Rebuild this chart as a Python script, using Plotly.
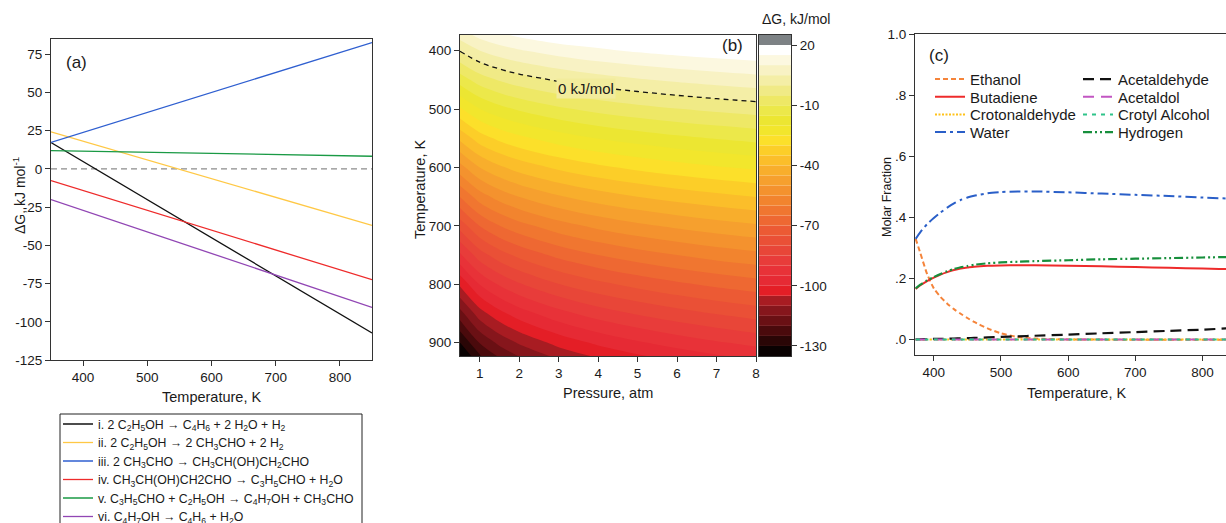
import plotly.graph_objects as go

W, H = 1226, 523
FONT = "Liberation Sans, Arial, Helvetica, sans-serif"
AXC = "#333333"
TXT = "#1a1a1a"

# ---------------- Panel (a): dG vs temperature ----------------
temp_a = [350, 850]
dg_i = [17.3, -107.3]
dg_ii = [24.2, -36.9]
dg_iii = [17.3, 82.7]
dg_iv = [-7.6, -72.5]
dg_v = [12.0, 8.3]
dg_vi = [-20.0, -90.6]
zero_a = [0, 0]
names_a = [
    "i. 2 C<sub>2</sub>H<sub>5</sub>OH → C<sub>4</sub>H<sub>6</sub> + 2 H<sub>2</sub>O + H<sub>2</sub>",
    "ii. 2 C<sub>2</sub>H<sub>5</sub>OH → 2 CH<sub>3</sub>CHO + 2 H<sub>2</sub>",
    "iii. 2 CH<sub>3</sub>CHO → CH<sub>3</sub>CH(OH)CH<sub>2</sub>CHO",
    "iv. CH<sub>3</sub>CH(OH)CH2CHO → C<sub>3</sub>H<sub>5</sub>CHO + H<sub>2</sub>O",
    "v. C<sub>3</sub>H<sub>5</sub>CHO + C<sub>2</sub>H<sub>5</sub>OH → C<sub>4</sub>H<sub>7</sub>OH + CH<sub>3</sub>CHO",
    "vi. C<sub>4</sub>H<sub>7</sub>OH → C<sub>4</sub>H<sub>6</sub> + H<sub>2</sub>O",
]
colors_a = ["#111111", "#ffc845", "#2f5fd0", "#ee2b2b", "#1a9a45", "#9146b4"]
xticks_a = [400, 500, 600, 700, 800]
yticks_a = [-125, -100, -75, -50, -25, 0, 25, 50, 75]
yticklabels_a = ["-125", "-100", "-75", "-50", "-25", "0", "25", "50", "75"]

# ---------------- Panel (b): dG(P, T) contour ----------------
pressure_b = [0.5, 1, 1.5, 2, 3, 4, 5, 6, 7, 8]
temp_b = [373, 400, 450, 500, 550, 600, 650, 700, 750, 800, 850, 900, 923]
dg_373 = [7.3, 11.6, 14.1, 15.9, 18.4, 19.2, 19.5, 19.5, 19.5, 19.5]
dg_400 = [0.2, 4.9, 7.6, 9.5, 12.2, 14.1, 15.6, 16.8, 17.8, 18.7]
dg_450 = [-12.8, -7.6, -4.6, -2.4, 0.6, 2.8, 4.4, 5.8, 7.0, 8.0]
dg_500 = [-25.8, -20.1, -16.7, -14.3, -10.9, -8.5, -6.7, -5.2, -3.9, -2.8]
dg_550 = [-38.8, -32.5, -28.8, -26.2, -22.5, -19.8, -17.8, -16.1, -14.7, -13.5]
dg_600 = [-51.9, -45.0, -40.9, -38.0, -34.0, -31.1, -28.9, -27.1, -25.5, -24.2]
dg_650 = [-64.9, -57.4, -53.0, -49.9, -45.5, -42.4, -40.0, -38.0, -36.4, -34.9]
dg_700 = [-77.9, -69.9, -65.1, -61.8, -57.1, -53.7, -51.1, -49.0, -47.2, -45.7]
dg_750 = [-90.9, -82.3, -77.2, -73.7, -68.6, -65.0, -62.2, -60.0, -58.0, -56.4]
dg_800 = [-104.0, -94.8, -89.4, -85.5, -80.1, -76.3, -73.4, -70.9, -68.9, -67.1]
dg_850 = [-117.0, -107.2, -101.5, -97.4, -91.7, -87.6, -84.5, -81.9, -79.7, -77.8]
dg_900 = [-130.0, -119.7, -113.6, -109.3, -103.2, -98.9, -95.6, -92.8, -90.5, -88.5]
dg_923 = [-136.0, -125.4, -119.2, -114.7, -108.5, -104.1, -100.7, -97.9, -95.5, -93.5]
z_b = [dg_373, dg_400, dg_450, dg_500, dg_550, dg_600, dg_650,
       dg_700, dg_750, dg_800, dg_850, dg_900, dg_923]
xticks_b = [1, 2, 3, 4, 5, 6, 7, 8]
yticks_b = [400, 500, 600, 700, 800, 900]

# colour bands (bottom to top), each 5 kJ/mol wide
cbar_levels = [-135, -130, -125, -120, -115, -110, -105, -100, -95, -90, -85, -80,
               -75, -70, -65, -60, -55, -50, -45, -40, -35, -30, -25, -20,
               -15, -10, -5, 0, 5, 10, 15, 20]
band_colors = [
    "#0a0202", "#2a0606", "#4a0a0c", "#6a1014", "#86161c", "#a81c22", "#e41e26",
    "#e62a34", "#e83238", "#e83c3a", "#e84638", "#ea5036", "#ec5a34", "#ee6832",
    "#f07630", "#f2842e", "#f4922e", "#f6a02e", "#f8ae2c", "#fbbe2a", "#fcce28",
    "#fce02a", "#f2e62c", "#ece632", "#ece84a", "#eee866", "#f0ea86", "#f4eea6",
    "#f8f2c4", "#fcf8e0", "#ffffff", "#7d8285",
]
cbar_ticks = [20, -10, -40, -70, -100, -130]
cbar_ticklabels = ["20", "-10", "-40", "-70", "-100", "-130"]

# ---------------- Panel (c): equilibrium composition ----------------
temp_c = [373, 380, 390, 400, 410, 420, 430, 440, 450, 460, 480, 500, 525, 550,
          600, 650, 700, 750, 800, 850, 900, 923]
ethanol = [0.330, 0.283, 0.215, 0.168, 0.140, 0.118, 0.100, 0.085, 0.071, 0.058,
           0.037, 0.021, 0.009, 0.004, 0.001, 0.0003, 0.0, 0.0, 0.0, 0.0, 0.0, 0.0]
butadiene = [0.166, 0.178, 0.192, 0.203, 0.213, 0.221, 0.228, 0.233, 0.236, 0.239,
             0.242, 0.243, 0.2435, 0.2435, 0.242, 0.240, 0.238, 0.235, 0.233, 0.230,
             0.228, 0.227]
crotonaldehyde = [0.0008, 0.0008, 0.0008, 0.0008, 0.0008, 0.0008, 0.0008, 0.0008,
                  0.0008, 0.0008, 0.0008, 0.0008, 0.0008, 0.0008, 0.0008, 0.0008,
                  0.0008, 0.0008, 0.0008, 0.0008, 0.0008, 0.0008]
water = [0.330, 0.352, 0.378, 0.398, 0.416, 0.432, 0.446, 0.457, 0.465, 0.471,
         0.479, 0.483, 0.485, 0.485, 0.482, 0.478, 0.474, 0.470, 0.465, 0.461,
         0.457, 0.455]
acetaldehyde = [0.001, 0.0015, 0.002, 0.0025, 0.003, 0.0035, 0.004, 0.0045, 0.005,
                0.006, 0.0075, 0.009, 0.011, 0.013, 0.0165, 0.021, 0.025, 0.029,
                0.033, 0.0385, 0.042, 0.044]
acetaldol = [0.0004, 0.0004, 0.0004, 0.0004, 0.0004, 0.0004, 0.0004, 0.0004, 0.0004,
             0.0004, 0.0004, 0.0004, 0.0004, 0.0004, 0.0004, 0.0004, 0.0004, 0.0004,
             0.0004, 0.0004, 0.0004, 0.0004]
crotyl_alcohol = [0.0006, 0.0006, 0.0006, 0.0006, 0.0006, 0.0006, 0.0006, 0.0006,
                  0.0006, 0.0006, 0.0006, 0.0006, 0.0006, 0.0006, 0.0006, 0.0006,
                  0.0006, 0.0006, 0.0006, 0.0006, 0.0006, 0.0006]
hydrogen = [0.168, 0.180, 0.194, 0.205, 0.215, 0.224, 0.231, 0.237, 0.241, 0.245,
            0.250, 0.253, 0.255, 0.257, 0.260, 0.263, 0.265, 0.267, 0.269, 0.271,
            0.272, 0.273]
xticks_c = [400, 500, 600, 700, 800]
yticks_c = [0.0, 0.2, 0.4, 0.6, 0.8, 1.0]
yticklabels_c = [".0", ".2", ".4", ".6", ".8", "1.0"]


def px(x):
    return x / W


def py(y):
    return 1 - y / H


fig = go.Figure()

# ---- (a)
legs_a = ["legend10", "legend11", "legend12", "legend13", "legend14", "legend15"]
fig.add_trace(go.Scatter(x=temp_a, y=zero_a, mode="lines", showlegend=False,
                         line=dict(color="#8c8c8c", width=1.2, dash="6px,4px"),
                         hoverinfo="skip", xaxis="x", yaxis="y"))
for name, col, ys, leg in zip(names_a, colors_a, [dg_i, dg_ii, dg_iii, dg_iv, dg_v, dg_vi], legs_a):
    fig.add_trace(go.Scatter(x=temp_a, y=ys, mode="lines", name=name,
                             line=dict(color=col, width=1.3), legend=leg,
                             xaxis="x", yaxis="y"))

# ---- (b)
cscale = [[j / (len(band_colors) - 1), c] for j, c in enumerate(band_colors)]
fig.add_trace(go.Contour(x=pressure_b, y=temp_b, z=z_b, xaxis="x2", yaxis="y2",
                         autocontour=False,
                         contours=dict(start=-130, end=20, size=5, coloring="fill",
                                       showlines=False),
                         colorscale=cscale, showscale=False, line=dict(width=0),
                         hoverinfo="skip", showlegend=False))
fig.add_trace(go.Contour(x=pressure_b, y=temp_b, z=z_b, xaxis="x2", yaxis="y2",
                         autocontour=False,
                         contours=dict(start=0, end=0, size=5, coloring="none"),
                         line=dict(color="#111111", width=1.3, dash="5px,4px"),
                         showscale=False, hoverinfo="skip", showlegend=False))
# custom colour bar
fig.add_trace(go.Bar(x=[0] * len(cbar_levels), y=[5] * len(cbar_levels), base=cbar_levels,
                     width=1, marker=dict(color=band_colors, line=dict(width=0)),
                     xaxis="x4", yaxis="y4", showlegend=False, hoverinfo="skip"))

# ---- (c)
series_c = [
    ("Ethanol", ethanol, "#f5843a", "5px,3px", 2.0, "legend2"),
    ("Butadiene", butadiene, "#ee2b2b", "solid", 2.0, "legend3"),
    ("Crotonaldehyde", crotonaldehyde, "#ffc21a", "2px,1.5px", 2.0, "legend4"),
    ("Water", water, "#2a5fc8", "11px,4px,3px,4px", 2.0, "legend5"),
    ("Acetaldehyde", acetaldehyde, "#111111", "11px,6px", 2.2, "legend6"),
    ("Acetaldol", acetaldol, "#c256c2", "11px,7px", 2.0, "legend7"),
    ("Crotyl Alcohol", crotyl_alcohol, "#2fc48a", "4px,5px", 2.0, "legend8"),
    ("Hydrogen", hydrogen, "#178f3c", "9px,3px,2px,3px,2px,3px", 2.2, "legend9"),
]
for name, ys, col, dash, wdt, leg in series_c:
    fig.add_trace(go.Scatter(x=temp_c, y=ys, mode="lines", name=name,
                             line=dict(color=col, width=wdt, dash=dash, shape="spline",
                                       smoothing=0.6),
                             legend=leg, xaxis="x3", yaxis="y3"))

common = dict(showline=True, linecolor=AXC, linewidth=1, ticks="outside", ticklen=5,
              tickwidth=1, tickcolor=AXC, tickfont=dict(size=13.5, color=TXT, family=FONT),
              showgrid=False, zeroline=False, mirror=True)

fig.update_layout(
    width=W, height=H,
    margin=dict(l=0, r=0, t=0, b=0, autoexpand=False),
    paper_bgcolor="white", plot_bgcolor="white",
    font=dict(family=FONT, color=TXT),
    xaxis=dict(domain=[px(51), px(372)], range=[350, 850], tickvals=xticks_a,
               anchor="y", **common),
    yaxis=dict(domain=[py(360), py(39)], range=[-125, 85], tickvals=yticks_a,
               ticktext=yticklabels_a, anchor="x", **common),
    xaxis2=dict(domain=[px(460), px(756)], range=[0.5, 8], tickvals=xticks_b,
                anchor="y2", **common),
    yaxis2=dict(domain=[py(356), py(35)], range=[923, 373], tickvals=yticks_b,
                anchor="x2", **common),
    xaxis3=dict(domain=[px(915), 1.0], range=[372, 835], tickvals=xticks_c,
                anchor="y3", **common),
    yaxis3=dict(domain=[py(355), py(34)], range=[-0.05, 1.0], tickvals=yticks_c,
                ticktext=yticklabels_c, anchor="x3",
                **{k: v for k, v in common.items() if k != "mirror"}, mirror=False),
    xaxis4=dict(domain=[px(759), px(791)], range=[-0.5, 0.5], showticklabels=False,
                showline=True, linecolor=AXC, mirror=True, showgrid=False,
                zeroline=False, ticks="", anchor="y4"),
    yaxis4=dict(domain=[py(356), py(35)], range=[-135, 25], tickvals=cbar_ticks,
                ticktext=cbar_ticklabels, side="right", anchor="x4", **common),
    showlegend=True,
)

leg_pos = {
    "legend2": (930, 79.3, 15), "legend3": (930, 97.0, 15), "legend4": (930, 114.7, 15),
    "legend5": (930, 132.3, 15), "legend6": (1078, 79.3, 15), "legend7": (1078, 97.0, 15),
    "legend8": (1078, 114.7, 15), "legend9": (1078, 132.3, 15),
    "legend10": (58, 424.0, 12.3), "legend11": (58, 442.5, 12.3),
    "legend12": (58, 461.0, 12.3), "legend13": (58, 479.5, 12.3),
    "legend14": (58, 498.0, 12.3), "legend15": (58, 516.5, 12.3),
}
fig.update_layout(**{
    k: dict(x=px(x), y=py(y), xanchor="left", yanchor="middle",
            bgcolor="rgba(0,0,0,0)", borderwidth=0,
            font=dict(size=fs, family=FONT, color=TXT))
    for k, (x, y, fs) in leg_pos.items()
})

# border box of the reaction legend
fig.add_shape(type="rect", xref="paper", yref="paper", x0=px(60), x1=px(362),
              y0=py(414), y1=py(560), line=dict(color="#222222", width=1),
              fillcolor="rgba(0,0,0,0)", layer="above")

ann = []


def text(x, y, s, size, angle=0, **kw):
    ann.append(dict(x=px(x), y=py(y), xref="paper", yref="paper", text=s, showarrow=False,
                    textangle=angle, font=dict(size=size, family=FONT, color=TXT),
                    xanchor="center", yanchor="middle", **kw))


text(76.5, 62.5, "(a)", 17)
text(732.5, 45.5, "(b)", 17)
text(938.5, 55.5, "(c)", 17)
text(19, 196, "ΔG, kJ mol<sup>-1</sup>", 14)
text(211.7, 397, "Temperature, K", 14.5)
text(420, 190, "Temperature, K", 14.5, -90)
text(607.7, 393, "Pressure, atm", 14.5)
text(796, 19, "ΔG, kJ/mol", 14)
text(887, 197, "Molar Fraction", 12.5, -90)
text(1076.7, 393, "Temperature, K", 14.5)
ann[3]["textangle"] = -90
ann.append(dict(x=3.68, y=464, xref="x2", yref="y2", text="0 kJ/mol", showarrow=False,
                font=dict(size=15, family=FONT, color=TXT), bgcolor="#f2ec9c",
                borderpad=1))
fig.update_layout(annotations=ann)

fig.write_html(
    "out.html",
    config={"displayModeBar": False},
    post_script="document.body.style.margin='0';document.body.style.overflow='hidden';",
)
